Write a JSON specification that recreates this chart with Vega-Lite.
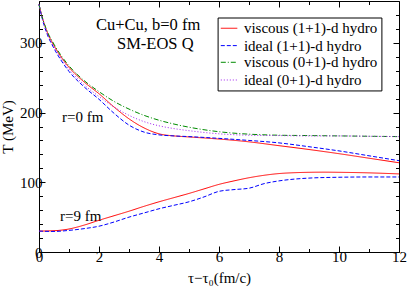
{
  "$schema": "https://vega.github.io/schema/vega-lite/v6.json",
  "width": 360,
  "height": 251,
  "autosize": "none",
  "padding": {"left": 39, "top": 1, "right": 8, "bottom": 35},
  "config": {
    "axis": {"grid": false, "domainColor": "black", "tickColor": "black", "labelColor": "black", "titleColor": "black", "labelFont": "Liberation Serif", "titleFont": "Liberation Serif", "labelFontSize": 15, "titleFontSize": 15, "titleFontWeight": "normal", "labelOverlap": false, "labelFlush": false, "labelBound": false}
  },
  "datasets": {
    "curves": [
      {"series": "viscous (1+1)-d hydro", "r": "0", "t": 0, "T": 355},
      {"series": "viscous (1+1)-d hydro", "r": "0", "t": 0.1, "T": 338},
      {"series": "viscous (1+1)-d hydro", "r": "0", "t": 0.25, "T": 318},
      {"series": "viscous (1+1)-d hydro", "r": "0", "t": 0.5, "T": 296},
      {"series": "viscous (1+1)-d hydro", "r": "0", "t": 0.75, "T": 279},
      {"series": "viscous (1+1)-d hydro", "r": "0", "t": 1, "T": 265},
      {"series": "viscous (1+1)-d hydro", "r": "0", "t": 1.5, "T": 244},
      {"series": "viscous (1+1)-d hydro", "r": "0", "t": 2, "T": 227},
      {"series": "viscous (1+1)-d hydro", "r": "0", "t": 2.5, "T": 208},
      {"series": "viscous (1+1)-d hydro", "r": "0", "t": 3, "T": 191},
      {"series": "viscous (1+1)-d hydro", "r": "0", "t": 3.5, "T": 178},
      {"series": "viscous (1+1)-d hydro", "r": "0", "t": 4, "T": 169.5},
      {"series": "viscous (1+1)-d hydro", "r": "0", "t": 4.5, "T": 166.5},
      {"series": "viscous (1+1)-d hydro", "r": "0", "t": 5, "T": 165},
      {"series": "viscous (1+1)-d hydro", "r": "0", "t": 6, "T": 162},
      {"series": "viscous (1+1)-d hydro", "r": "0", "t": 7, "T": 158},
      {"series": "viscous (1+1)-d hydro", "r": "0", "t": 8, "T": 152.5},
      {"series": "viscous (1+1)-d hydro", "r": "0", "t": 9, "T": 147},
      {"series": "viscous (1+1)-d hydro", "r": "0", "t": 10, "T": 141},
      {"series": "viscous (1+1)-d hydro", "r": "0", "t": 11, "T": 134.5},
      {"series": "viscous (1+1)-d hydro", "r": "0", "t": 12, "T": 128},

      {"series": "ideal (1+1)-d hydro", "r": "0", "t": 0, "T": 355},
      {"series": "ideal (1+1)-d hydro", "r": "0", "t": 0.1, "T": 336},
      {"series": "ideal (1+1)-d hydro", "r": "0", "t": 0.25, "T": 315},
      {"series": "ideal (1+1)-d hydro", "r": "0", "t": 0.5, "T": 292},
      {"series": "ideal (1+1)-d hydro", "r": "0", "t": 0.75, "T": 274},
      {"series": "ideal (1+1)-d hydro", "r": "0", "t": 1, "T": 259},
      {"series": "ideal (1+1)-d hydro", "r": "0", "t": 1.5, "T": 237},
      {"series": "ideal (1+1)-d hydro", "r": "0", "t": 2, "T": 219},
      {"series": "ideal (1+1)-d hydro", "r": "0", "t": 2.5, "T": 199},
      {"series": "ideal (1+1)-d hydro", "r": "0", "t": 3, "T": 182},
      {"series": "ideal (1+1)-d hydro", "r": "0", "t": 3.5, "T": 172},
      {"series": "ideal (1+1)-d hydro", "r": "0", "t": 4, "T": 168},
      {"series": "ideal (1+1)-d hydro", "r": "0", "t": 4.5, "T": 166.5},
      {"series": "ideal (1+1)-d hydro", "r": "0", "t": 5, "T": 165.5},
      {"series": "ideal (1+1)-d hydro", "r": "0", "t": 6, "T": 163},
      {"series": "ideal (1+1)-d hydro", "r": "0", "t": 7, "T": 160},
      {"series": "ideal (1+1)-d hydro", "r": "0", "t": 8, "T": 156.5},
      {"series": "ideal (1+1)-d hydro", "r": "0", "t": 9, "T": 151},
      {"series": "ideal (1+1)-d hydro", "r": "0", "t": 10, "T": 145},
      {"series": "ideal (1+1)-d hydro", "r": "0", "t": 11, "T": 138},
      {"series": "ideal (1+1)-d hydro", "r": "0", "t": 12, "T": 131},

      {"series": "viscous (0+1)-d hydro", "r": "0", "t": 0, "T": 355},
      {"series": "viscous (0+1)-d hydro", "r": "0", "t": 0.1, "T": 338},
      {"series": "viscous (0+1)-d hydro", "r": "0", "t": 0.25, "T": 319},
      {"series": "viscous (0+1)-d hydro", "r": "0", "t": 0.5, "T": 298},
      {"series": "viscous (0+1)-d hydro", "r": "0", "t": 0.75, "T": 281},
      {"series": "viscous (0+1)-d hydro", "r": "0", "t": 1, "T": 267},
      {"series": "viscous (0+1)-d hydro", "r": "0", "t": 1.5, "T": 246},
      {"series": "viscous (0+1)-d hydro", "r": "0", "t": 2, "T": 230},
      {"series": "viscous (0+1)-d hydro", "r": "0", "t": 2.5, "T": 216},
      {"series": "viscous (0+1)-d hydro", "r": "0", "t": 3, "T": 205},
      {"series": "viscous (0+1)-d hydro", "r": "0", "t": 3.5, "T": 196},
      {"series": "viscous (0+1)-d hydro", "r": "0", "t": 4, "T": 189},
      {"series": "viscous (0+1)-d hydro", "r": "0", "t": 4.5, "T": 183.5},
      {"series": "viscous (0+1)-d hydro", "r": "0", "t": 5, "T": 179},
      {"series": "viscous (0+1)-d hydro", "r": "0", "t": 6, "T": 172.5},
      {"series": "viscous (0+1)-d hydro", "r": "0", "t": 7, "T": 169},
      {"series": "viscous (0+1)-d hydro", "r": "0", "t": 8, "T": 167.5},
      {"series": "viscous (0+1)-d hydro", "r": "0", "t": 9, "T": 167},
      {"series": "viscous (0+1)-d hydro", "r": "0", "t": 10, "T": 166.5},
      {"series": "viscous (0+1)-d hydro", "r": "0", "t": 11, "T": 166},
      {"series": "viscous (0+1)-d hydro", "r": "0", "t": 12, "T": 165.5},

      {"series": "ideal (0+1)-d hydro", "r": "0", "t": 0, "T": 355},
      {"series": "ideal (0+1)-d hydro", "r": "0", "t": 0.1, "T": 337},
      {"series": "ideal (0+1)-d hydro", "r": "0", "t": 0.25, "T": 316},
      {"series": "ideal (0+1)-d hydro", "r": "0", "t": 0.5, "T": 294},
      {"series": "ideal (0+1)-d hydro", "r": "0", "t": 0.75, "T": 277},
      {"series": "ideal (0+1)-d hydro", "r": "0", "t": 1, "T": 262},
      {"series": "ideal (0+1)-d hydro", "r": "0", "t": 1.5, "T": 240},
      {"series": "ideal (0+1)-d hydro", "r": "0", "t": 2, "T": 223},
      {"series": "ideal (0+1)-d hydro", "r": "0", "t": 2.5, "T": 208},
      {"series": "ideal (0+1)-d hydro", "r": "0", "t": 3, "T": 196},
      {"series": "ideal (0+1)-d hydro", "r": "0", "t": 3.5, "T": 187},
      {"series": "ideal (0+1)-d hydro", "r": "0", "t": 4, "T": 181},
      {"series": "ideal (0+1)-d hydro", "r": "0", "t": 4.5, "T": 177},
      {"series": "ideal (0+1)-d hydro", "r": "0", "t": 5, "T": 174},
      {"series": "ideal (0+1)-d hydro", "r": "0", "t": 6, "T": 169.5},
      {"series": "ideal (0+1)-d hydro", "r": "0", "t": 7, "T": 167.5},
      {"series": "ideal (0+1)-d hydro", "r": "0", "t": 8, "T": 167},
      {"series": "ideal (0+1)-d hydro", "r": "0", "t": 9, "T": 166.5},
      {"series": "ideal (0+1)-d hydro", "r": "0", "t": 10, "T": 166.5},
      {"series": "ideal (0+1)-d hydro", "r": "0", "t": 11, "T": 166},
      {"series": "ideal (0+1)-d hydro", "r": "0", "t": 12, "T": 165.5},

      {"series": "viscous (1+1)-d hydro", "r": "9", "t": 0, "T": 30},
      {"series": "viscous (1+1)-d hydro", "r": "9", "t": 0.5, "T": 30.5},
      {"series": "viscous (1+1)-d hydro", "r": "9", "t": 1, "T": 33},
      {"series": "viscous (1+1)-d hydro", "r": "9", "t": 1.5, "T": 38.5},
      {"series": "viscous (1+1)-d hydro", "r": "9", "t": 2, "T": 45.5},
      {"series": "viscous (1+1)-d hydro", "r": "9", "t": 2.5, "T": 52},
      {"series": "viscous (1+1)-d hydro", "r": "9", "t": 3, "T": 58.5},
      {"series": "viscous (1+1)-d hydro", "r": "9", "t": 3.5, "T": 65.5},
      {"series": "viscous (1+1)-d hydro", "r": "9", "t": 4, "T": 72},
      {"series": "viscous (1+1)-d hydro", "r": "9", "t": 4.5, "T": 78},
      {"series": "viscous (1+1)-d hydro", "r": "9", "t": 5, "T": 84},
      {"series": "viscous (1+1)-d hydro", "r": "9", "t": 5.5, "T": 90.5},
      {"series": "viscous (1+1)-d hydro", "r": "9", "t": 6, "T": 97},
      {"series": "viscous (1+1)-d hydro", "r": "9", "t": 6.5, "T": 102},
      {"series": "viscous (1+1)-d hydro", "r": "9", "t": 7, "T": 106.5},
      {"series": "viscous (1+1)-d hydro", "r": "9", "t": 7.5, "T": 110},
      {"series": "viscous (1+1)-d hydro", "r": "9", "t": 8, "T": 112.5},
      {"series": "viscous (1+1)-d hydro", "r": "9", "t": 8.5, "T": 113.7},
      {"series": "viscous (1+1)-d hydro", "r": "9", "t": 9, "T": 114.3},
      {"series": "viscous (1+1)-d hydro", "r": "9", "t": 9.5, "T": 114.5},
      {"series": "viscous (1+1)-d hydro", "r": "9", "t": 10, "T": 114.3},
      {"series": "viscous (1+1)-d hydro", "r": "9", "t": 11, "T": 113.5},
      {"series": "viscous (1+1)-d hydro", "r": "9", "t": 12, "T": 112},

      {"series": "ideal (1+1)-d hydro", "r": "9", "t": 0, "T": 30},
      {"series": "ideal (1+1)-d hydro", "r": "9", "t": 0.5, "T": 29.5},
      {"series": "ideal (1+1)-d hydro", "r": "9", "t": 1, "T": 31},
      {"series": "ideal (1+1)-d hydro", "r": "9", "t": 1.5, "T": 33.5},
      {"series": "ideal (1+1)-d hydro", "r": "9", "t": 2, "T": 37},
      {"series": "ideal (1+1)-d hydro", "r": "9", "t": 2.5, "T": 43},
      {"series": "ideal (1+1)-d hydro", "r": "9", "t": 3, "T": 50},
      {"series": "ideal (1+1)-d hydro", "r": "9", "t": 3.5, "T": 56},
      {"series": "ideal (1+1)-d hydro", "r": "9", "t": 4, "T": 62},
      {"series": "ideal (1+1)-d hydro", "r": "9", "t": 4.5, "T": 67},
      {"series": "ideal (1+1)-d hydro", "r": "9", "t": 5, "T": 72},
      {"series": "ideal (1+1)-d hydro", "r": "9", "t": 5.5, "T": 79},
      {"series": "ideal (1+1)-d hydro", "r": "9", "t": 6, "T": 87},
      {"series": "ideal (1+1)-d hydro", "r": "9", "t": 6.5, "T": 89.5},
      {"series": "ideal (1+1)-d hydro", "r": "9", "t": 7, "T": 91.5},
      {"series": "ideal (1+1)-d hydro", "r": "9", "t": 7.5, "T": 98},
      {"series": "ideal (1+1)-d hydro", "r": "9", "t": 8, "T": 102},
      {"series": "ideal (1+1)-d hydro", "r": "9", "t": 8.5, "T": 104.5},
      {"series": "ideal (1+1)-d hydro", "r": "9", "t": 9, "T": 106},
      {"series": "ideal (1+1)-d hydro", "r": "9", "t": 10, "T": 107.2},
      {"series": "ideal (1+1)-d hydro", "r": "9", "t": 11, "T": 107.6},
      {"series": "ideal (1+1)-d hydro", "r": "9", "t": 12, "T": 107.6}
    ],
    "notes": [
      {"grp": "a1", "label": "Cu+Cu, b=0 fm", "tx": 1.9, "ty": 319},
      {"grp": "a2", "label": "SM-EOS Q", "tx": 2.6, "ty": 290.5},
      {"grp": "b", "label": "r=0 fm", "tx": 0.77, "ty": 186},
      {"grp": "b", "label": "r=9 fm", "tx": 0.7, "ty": 45}
    ],
    "key": [
      {"series": "viscous (1+1)-d hydro", "ky": 320.9},
      {"series": "ideal (1+1)-d hydro", "ky": 296},
      {"series": "viscous (0+1)-d hydro", "ky": 272.1},
      {"series": "ideal (0+1)-d hydro", "ky": 246.7}
    ]
  },
  "resolve": {"axis": {"x": "independent", "y": "independent"}},
  "layer": [
    {
      "data": {"name": "notes"},
      "transform": [{"filter": "datum.grp == 'a1'"}],
      "mark": {"type": "text", "align": "left", "baseline": "alphabetic", "fontSize": 16.5, "font": "Liberation Serif"},
      "encoding": {
        "x": {"field": "tx", "type": "quantitative", "scale": {"domain": [0, 12], "nice": false, "zero": false},
              "axis": {"orient": "bottom", "values": [0, 2, 4, 6, 8, 10, 12], "tickSize": -6, "labelPadding": 3, "title": "τ−τ₀(fm/c)", "titlePadding": 6}},
        "y": {"field": "ty", "type": "quantitative", "scale": {"domain": [0, 360], "nice": false},
              "axis": {"orient": "left", "values": [0, 100, 200, 300], "tickSize": -6, "labelPadding": 3, "title": "T (MeV)", "titlePadding": 4}},
        "text": {"field": "label"}
      }
    },
    {
      "data": {"name": "notes"},
      "transform": [{"filter": "datum.grp == 'a2'"}],
      "mark": {"type": "text", "align": "left", "baseline": "alphabetic", "fontSize": 16.5, "font": "Liberation Serif"},
      "encoding": {
        "x": {"field": "tx", "type": "quantitative", "axis": {"orient": "bottom", "values": [1, 3, 5, 7, 9, 11], "tickSize": -3.5, "labels": false, "domain": false, "title": null}},
        "y": {"field": "ty", "type": "quantitative", "axis": {"orient": "left", "values": [20, 40, 60, 80, 120, 140, 160, 180, 220, 240, 260, 280, 320, 340], "tickSize": -3.5, "labels": false, "domain": false, "title": null}},
        "text": {"field": "label"}
      }
    },
    {
      "data": {"name": "notes"},
      "transform": [{"filter": "datum.grp == 'b'"}],
      "mark": {"type": "text", "align": "left", "baseline": "alphabetic", "fontSize": 15, "font": "Liberation Serif"},
      "encoding": {
        "x": {"field": "tx", "type": "quantitative", "axis": {"orient": "top", "values": [1, 3, 5, 7, 9, 11], "tickSize": -3.5, "labels": false, "domain": false, "title": null}},
        "y": {"field": "ty", "type": "quantitative", "axis": {"orient": "right", "values": [20, 40, 60, 80, 120, 140, 160, 180, 220, 240, 260, 280, 320, 340], "tickSize": -3.5, "labels": false, "domain": false, "title": null}},
        "text": {"field": "label"}
      }
    },
    {
      "data": {"name": "curves"},
      "mark": {"type": "line", "strokeWidth": 1, "interpolate": "monotone"},
      "encoding": {
        "x": {"field": "t", "type": "quantitative",
              "axis": {"orient": "top", "values": [0, 2, 4, 6, 8, 10, 12], "tickSize": -6, "labels": false, "title": null}},
        "y": {"field": "T", "type": "quantitative",
              "axis": {"orient": "right", "values": [0, 100, 200, 300], "tickSize": -6, "labels": false, "title": null}},
        "color": {"field": "series", "type": "nominal",
                  "scale": {"domain": ["viscous (1+1)-d hydro", "ideal (1+1)-d hydro", "viscous (0+1)-d hydro", "ideal (0+1)-d hydro"], "range": ["#ff0000", "#0000ff", "#008b00", "#a020f0"]},
                  "legend": null},
        "strokeDash": {"field": "series", "type": "nominal",
                  "scale": {"domain": ["viscous (1+1)-d hydro", "ideal (1+1)-d hydro", "viscous (0+1)-d hydro", "ideal (0+1)-d hydro"], "range": [[1, 0], [4, 2], [5, 2, 1, 2], [1, 2]]},
                  "legend": null},
        "detail": {"field": "r"}
      }
    },
    {
      "data": {"values": [{"box": "legend"}]},
      "mark": {"type": "rect", "fill": "white", "stroke": "black", "strokeWidth": 1},
      "encoding": {
        "x": {"datum": 5.97, "type": "quantitative", "axis": null},
        "x2": {"datum": 11.43},
        "y": {"datum": 231, "type": "quantitative", "axis": null},
        "y2": {"datum": 335.6}
      }
    },
    {
      "data": {"name": "key"},
      "mark": {"type": "rule", "strokeWidth": 1},
      "encoding": {
        "x": {"datum": 6.06, "type": "quantitative", "axis": null},
        "x2": {"datum": 6.61},
        "y": {"field": "ky", "type": "quantitative", "axis": null},
        "color": {"field": "series", "type": "nominal", "legend": null},
        "strokeDash": {"field": "series", "type": "nominal", "legend": null}
      }
    },
    {
      "data": {"name": "key"},
      "mark": {"type": "text", "align": "left", "baseline": "middle", "fontSize": 15, "font": "Liberation Serif", "fill": "black"},
      "encoding": {
        "x": {"datum": 6.83, "type": "quantitative", "axis": null},
        "y": {"field": "ky", "type": "quantitative", "axis": null},
        "text": {"field": "series"}
      }
    }
  ]
}
